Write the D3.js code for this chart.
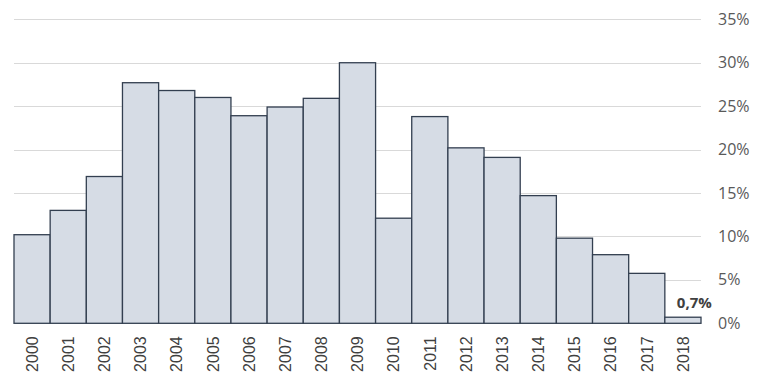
<!DOCTYPE html>
<html>
<head>
<meta charset="utf-8">
<script src="https://cdn.jsdelivr.net/npm/d3@7"></script>
<style>
  body { margin: 0; background: #fff; }
</style>
</head>
<body>
<div id="chart"></div>
<script>
var years = ["2000", "2001", "2002", "2003", "2004", "2005", "2006", "2007", "2008", "2009",
  "2010", "2011", "2012", "2013", "2014", "2015", "2016", "2017", "2018"];
var shares = [10.2, 13.0, 16.9, 27.7, 26.8, 26.0, 23.9, 24.9, 25.9, 30.0,
  12.1, 23.8, 20.2, 19.1, 14.7, 9.8, 7.9, 5.75, 0.7];
var yTicks = [0, 5, 10, 15, 20, 25, 30, 35];
var lastLabel = "0,7%";

var w = 762,
  h = 382,
  plotLeft = 14,
  plotRight = 701,
  plotTop = 19.3,
  plotBottom = 323.3;

var x = d3.scaleBand().domain(years).range([plotLeft, plotRight]).padding(0);
var y = d3.scaleLinear().domain([0, 35]).range([plotBottom, plotTop]);

var svg = d3.select("#chart").append("svg")
  .attr("width", w)
  .attr("height", h)
  .style("font-family", "'Open Sans', sans-serif");

// gridlines
svg.append("g").selectAll("line")
  .data(yTicks.filter(function(d) { return d > 0; }))
  .enter().append("line")
  .attr("x1", plotLeft)
  .attr("x2", plotRight)
  .attr("y1", function(d) { return Math.round(y(d)) + 0.5; })
  .attr("y2", function(d) { return Math.round(y(d)) + 0.5; })
  .attr("stroke", "#d9d9d9")
  .attr("stroke-width", 1);

// bars
svg.append("g").selectAll("rect")
  .data(shares)
  .enter().append("rect")
  .attr("x", function(d, i) { return x(years[i]); })
  .attr("y", function(d) { return y(d); })
  .attr("width", x.bandwidth())
  .attr("height", function(d) { return plotBottom - y(d); })
  .attr("fill", "#d6dce5")
  .attr("stroke", "#333f50")
  .attr("stroke-width", 1.3);

// y axis on the right, labels only
var yAxis = d3.axisRight(y).tickValues(yTicks).tickSize(0).tickPadding(0)
  .tickFormat(function(d) { return d + "%"; });
var yg = svg.append("g")
  .attr("transform", "translate(718,0)")
  .call(yAxis);
yg.select(".domain").remove();
yg.selectAll("text")
  .attr("fill", "#595959")
  .style("font-family", "'Open Sans', sans-serif")
  .style("font-size", "16px");

// x axis labels, rotated
var xAxis = d3.axisBottom(x).tickSize(0).tickPadding(0);
var xg = svg.append("g")
  .attr("transform", "translate(0," + plotBottom + ")")
  .call(xAxis);
xg.select(".domain").remove();
xg.selectAll("text")
  .attr("transform", "rotate(-90)")
  .attr("x", -13)
  .attr("y", 0)
  .attr("dy", "0.36em")
  .attr("dx", "0")
  .style("text-anchor", "end")
  .style("font-family", "'Liberation Sans', Arial, sans-serif")
  .style("font-size", "16px")
  .attr("fill", "#404040");

// value label on the last bar
var lastYear = years[years.length - 1];
svg.append("text")
  .attr("x", x(lastYear) + 12)
  .attr("y", y(shares[shares.length - 1]) - 9)
  .attr("fill", "#404040")
  .style("font-family", "'Open Sans', sans-serif")
  .style("font-weight", "bold")
  .style("font-size", "15px")
  .text(lastLabel);
</script>
</body>
</html>
